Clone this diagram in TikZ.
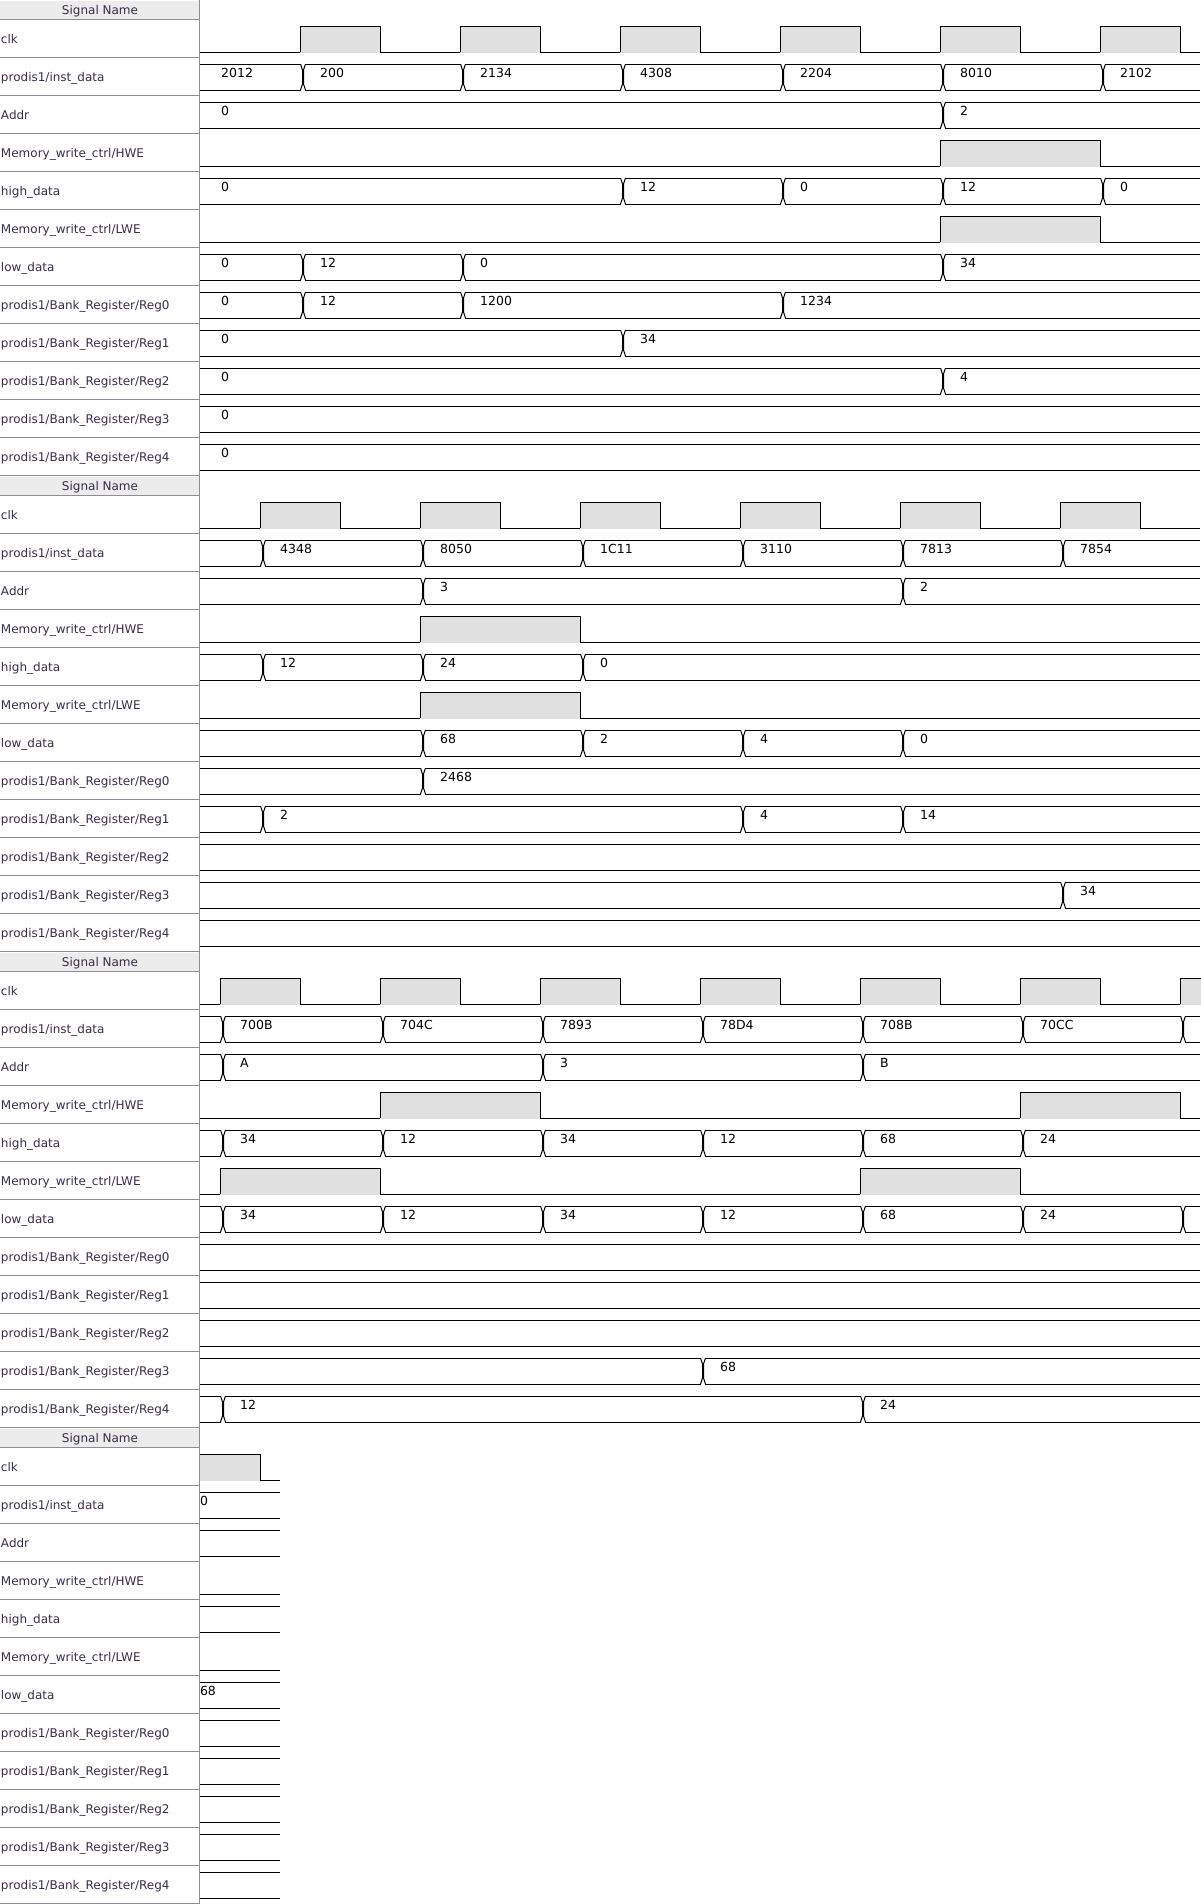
\documentclass[tikz,border=0pt]{standalone}
\usepackage{fontspec}
\setmainfont{DejaVu Sans}
\definecolor{hdrgray}{RGB}{236,236,236}
\definecolor{hifill}{RGB}{224,224,224}
\definecolor{sepline}{RGB}{138,142,150}
\definecolor{lblcol}{RGB}{60,42,76}
\tikzset{
  wave/.style={black,line width=1pt,line join=miter},
  sep/.style={sepline,line width=1pt},
  lbltext/.style={text=lblcol,font=\fontsize{12}{14}\selectfont,inner sep=0pt,anchor=base west},
  hdrtext/.style={text=lblcol,font=\fontsize{12}{14}\selectfont,inner sep=0pt,anchor=base},
  valtext/.style={text=black,font=\fontsize{12.5}{14}\selectfont,inner sep=0pt,anchor=base west},
  lane/.style={shift={(0,{19.5+38*#1})}},
}
% signal-name column of one page of the wave window
\newcommand\labelcol[1]{%
  \fill[hdrgray] (0,1) rectangle (199,19);
  \node[hdrtext] (hdr#1) at (100,14.8) {Signal Name};
  \draw[sep] (0,19.5) -- (199,19.5);
  \foreach \nm [count=\k from 0] in {clk,{prodis1/inst\_data},Addr,{Memory\_write\_ctrl/HWE},high\_data,{Memory\_write\_ctrl/LWE},low\_data,{prodis1/Bank\_Register/Reg0},{prodis1/Bank\_Register/Reg1},{prodis1/Bank\_Register/Reg2},{prodis1/Bank\_Register/Reg3},{prodis1/Bank\_Register/Reg4}}{%
    \node[lbltext] (lbl#1-\k) at (0.8,{43+38*\k}) {\nm};
    \draw[sep] (0,{57.5+38*\k}) -- (199,{57.5+38*\k});
  }%
}
% single-bit lane: low line with shaded high pulses a/b
\newcommand\lowline[1]{\draw[wave] (200,32.5) -- (#1,32.5);}
\newcommand\lvl[2]{%
  \lowline{#1}%
  \foreach \ha/\hb in {#2}{%
    \fill[hifill] (\ha,6.5) rectangle (\hb,33);
    \draw[wave] (\ha,32.5) -- (\ha,6.5) -- (\hb,6.5) -- (\hb,32.5);
  }%
}
% bus lane with value changes at the listed edges
\newcommand\busflat[1]{\draw[wave] (200,6.5) -- (#1,6.5) (200,32.5) -- (#1,32.5);}
\newcommand\bus[2]{%
  \busflat{#1}%
  \foreach \e in {#2}{%
    \fill[white] ({\e+0.6},5) rectangle ({\e+5.4},34);
    \draw[wave] ({\e+0.5},6.5) -- ({\e+2.5},12.5) -- ({\e+2.5},26.5) -- ({\e+0.5},32.5)
                ({\e+5.5},6.5) -- ({\e+3.5},12.5) -- ({\e+3.5},26.5) -- ({\e+5.5},32.5);
  }%
}
% bus values: x/text pairs
\newcommand\vals[2]{\foreach \px/\tx [count=\k] in {#2}{\node[valtext] (#1-\k) at (\px,20) {\tx};}}

\begin{document}
\begin{tikzpicture}[x=1pt,y=-1pt]
\useasboundingbox (0,0) rectangle (1200,1904);

% ---------------- page 1 ----------------
\begin{scope}
\labelcol{a}
\begin{scope}[lane=0]\lvl{1200}{300/380,460/540,620/700,780/860,940/1020,1100/1180}\end{scope}
\begin{scope}[lane=1]\bus{1200}{300,460,620,780,940,1100}
  \vals{a-inst}{221/2012,320/200,480/2134,640/4308,800/2204,960/8010,1120/2102}\end{scope}
\begin{scope}[lane=2]\bus{1200}{940}\vals{a-addr}{221/0,960/2}\end{scope}
\begin{scope}[lane=3]\lvl{1200}{940/1100}\end{scope}
\begin{scope}[lane=4]\bus{1200}{620,780,940,1100}\vals{a-hd}{221/0,640/12,800/0,960/12,1120/0}\end{scope}
\begin{scope}[lane=5]\lvl{1200}{940/1100}\end{scope}
\begin{scope}[lane=6]\bus{1200}{300,460,940}\vals{a-ld}{221/0,320/12,480/0,960/34}\end{scope}
\begin{scope}[lane=7]\bus{1200}{300,460,780}\vals{a-r0}{221/0,320/12,480/1200,800/1234}\end{scope}
\begin{scope}[lane=8]\bus{1200}{620}\vals{a-r1}{221/0,640/34}\end{scope}
\begin{scope}[lane=9]\bus{1200}{940}\vals{a-r2}{221/0,960/4}\end{scope}
\begin{scope}[lane=10]\busflat{1200}\vals{a-r3}{221/0}\end{scope}
\begin{scope}[lane=11]\busflat{1200}\vals{a-r4}{221/0}\end{scope}
\end{scope}

% ---------------- page 2 ----------------
\begin{scope}[shift={(0,476)}]
\labelcol{b}
\begin{scope}[lane=0]\lvl{1200}{260/340,420/500,580/660,740/820,900/980,1060/1140}\end{scope}
\begin{scope}[lane=1]\bus{1200}{260,420,580,740,900,1060}
  \vals{b-inst}{280/4348,440/8050,600/1C11,760/3110,920/7813,1080/7854}\end{scope}
\begin{scope}[lane=2]\bus{1200}{420,900}\vals{b-addr}{440/3,920/2}\end{scope}
\begin{scope}[lane=3]\lvl{1200}{420/580}\end{scope}
\begin{scope}[lane=4]\bus{1200}{260,420,580}\vals{b-hd}{280/12,440/24,600/0}\end{scope}
\begin{scope}[lane=5]\lvl{1200}{420/580}\end{scope}
\begin{scope}[lane=6]\bus{1200}{420,580,740,900}\vals{b-ld}{440/68,600/2,760/4,920/0}\end{scope}
\begin{scope}[lane=7]\bus{1200}{420}\vals{b-r0}{440/2468}\end{scope}
\begin{scope}[lane=8]\bus{1200}{260,740,900}\vals{b-r1}{280/2,760/4,920/14}\end{scope}
\begin{scope}[lane=9]\busflat{1200}\end{scope}
\begin{scope}[lane=10]\bus{1200}{1060}\vals{b-r3}{1080/34}\end{scope}
\begin{scope}[lane=11]\busflat{1200}\end{scope}
\end{scope}

% ---------------- page 3 ----------------
\begin{scope}[shift={(0,952)}]
\labelcol{c}
\begin{scope}[lane=0]\lvl{1200}{220/300,380/460,540/620,700/780,860/940,1020/1100,1180/1201}\end{scope}
\begin{scope}[lane=1]\bus{1200}{220,380,540,700,860,1020,1180}
  \vals{c-inst}{240/700B,400/704C,560/7893,720/78D4,880/708B,1040/70CC}\end{scope}
\begin{scope}[lane=2]\bus{1200}{220,540,860}\vals{c-addr}{240/A,560/3,880/B}\end{scope}
\begin{scope}[lane=3]\lvl{1200}{380/540,1020/1180}\end{scope}
\begin{scope}[lane=4]\bus{1200}{220,380,540,700,860,1020}
  \vals{c-hd}{240/34,400/12,560/34,720/12,880/68,1040/24}\end{scope}
\begin{scope}[lane=5]\lvl{1200}{220/380,860/1020}\end{scope}
\begin{scope}[lane=6]\bus{1200}{220,380,540,700,860,1020,1180}
  \vals{c-ld}{240/34,400/12,560/34,720/12,880/68,1040/24}\end{scope}
\begin{scope}[lane=7]\busflat{1200}\end{scope}
\begin{scope}[lane=8]\busflat{1200}\end{scope}
\begin{scope}[lane=9]\busflat{1200}\end{scope}
\begin{scope}[lane=10]\bus{1200}{700}\vals{c-r3}{720/68}\end{scope}
\begin{scope}[lane=11]\bus{1200}{220,860}\vals{c-r4}{240/12,880/24}\end{scope}
\end{scope}

% ---------------- page 4 ----------------
\begin{scope}[shift={(0,1428)}]
\labelcol{d}
\begin{scope}[lane=0]
  \fill[hifill] (200,6.5) rectangle (260,33);
  \draw[wave] (200,6.5) -- (260,6.5) -- (260,32.5) -- (280,32.5);
\end{scope}
\begin{scope}[lane=1]\busflat{280}\vals{d-inst}{199.8/0}\end{scope}
\begin{scope}[lane=2]\busflat{280}\end{scope}
\begin{scope}[lane=3]\lowline{280}\end{scope}
\begin{scope}[lane=4]\busflat{280}\end{scope}
\begin{scope}[lane=5]\lowline{280}\end{scope}
\begin{scope}[lane=6]\busflat{280}\vals{d-ld}{199.8/68}\end{scope}
\foreach \r in {7,...,11}{\begin{scope}[lane=\r]\busflat{280}\end{scope}}
\end{scope}

% column divider
\draw[sep] (199.5,0) -- (199.5,1904);
\end{tikzpicture}
\end{document}
